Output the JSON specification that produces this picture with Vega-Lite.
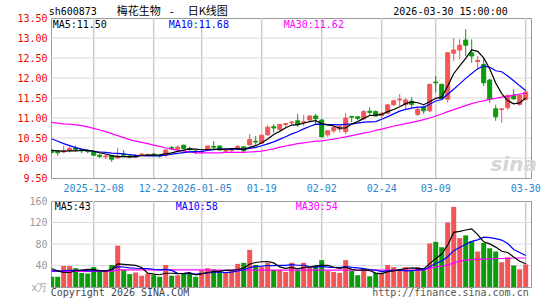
{
"$schema": "https://vega.github.io/schema/vega-lite/v6.json",
"padding": {"left": 16, "top": 5, "right": 5, "bottom": 2},
"background": "white",
"spacing": 23,
"bounds": "flush",
"config": {
 "view": {"stroke": "#999999", "strokeWidth": 1},
 "axis": {"domain": false, "ticks": false, "labelFont": "DejaVu Sans Mono", "labelFontSize": 10, "labelOverlap": false, "zindex": 0},
 "text": {"font": "DejaVu Sans Mono", "fontSize": 10, "align": "left", "baseline": "middle"}
},
"data": {"values": [
{"d":"2025-11-27","o":10.19,"h":10.22,"l":10.12,"c":10.14,"v":19,"m5":10.19,"m10":10.48,"m30":10.89,"vm5":34,"vm10":30,"vm30":29},
{"d":"2025-11-28","o":10.17,"h":10.19,"l":10.06,"c":10.13,"v":19,"m5":10.18,"m10":10.42,"m30":10.87,"vm5":30,"vm10":30,"vm30":29},
{"d":"2025-12-01","o":10.15,"h":10.31,"l":10.12,"c":10.18,"v":39,"m5":10.17,"m10":10.36,"m30":10.855,"vm5":27,"vm10":30,"vm30":29},
{"d":"2025-12-02","o":10.19,"h":10.33,"l":10.14,"c":10.24,"v":39,"m5":10.18,"m10":10.31,"m30":10.845,"vm5":27,"vm10":31,"vm30":29},
{"d":"2025-12-03","o":10.25,"h":10.31,"l":10.16,"c":10.21,"v":35,"m5":10.18,"m10":10.26,"m30":10.83,"vm5":30.2,"vm10":31,"vm30":29},
{"d":"2025-12-04","o":10.21,"h":10.24,"l":10.12,"c":10.18,"v":26,"m5":10.188,"m10":10.22,"m30":10.81,"vm5":31.6,"vm10":31,"vm30":29},
{"d":"2025-12-05","o":10.18,"h":10.21,"l":10.12,"c":10.16,"v":25,"m5":10.194,"m10":10.19,"m30":10.78,"vm5":32.8,"vm10":30,"vm30":29},
{"d":"2025-12-08","o":10.14,"h":10.16,"l":10.05,"c":10.07,"v":37,"m5":10.172,"m10":10.16,"m30":10.74,"vm5":32.4,"vm10":30,"vm30":29},
{"d":"2025-12-09","o":10.07,"h":10.11,"l":10.0,"c":10.04,"v":29,"m5":10.132,"m10":10.15,"m30":10.7,"vm5":30.4,"vm10":30,"vm30":29},
{"d":"2025-12-10","o":10.03,"h":10.09,"l":9.97,"c":10.05,"v":31,"m5":10.1,"m10":10.14,"m30":10.66,"vm5":29.6,"vm10":29.9,"vm30":29},
{"d":"2025-12-11","o":10.06,"h":10.08,"l":9.9,"c":9.97,"v":41,"m5":10.058,"m10":10.123,"m30":10.61,"vm5":32.6,"vm10":32.1,"vm30":29},
{"d":"2025-12-12","o":10.0,"h":10.26,"l":10.0,"c":10.05,"v":77,"m5":10.036,"m10":10.115,"m30":10.56,"vm5":43,"vm10":37.9,"vm30":32},
{"d":"2025-12-15","o":10.1,"h":10.2,"l":10.03,"c":10.07,"v":32,"m5":10.036,"m10":10.104,"m30":10.51,"vm5":42,"vm10":37.2,"vm30":32},
{"d":"2025-12-16","o":10.05,"h":10.08,"l":9.99,"c":10.02,"v":24,"m5":10.032,"m10":10.082,"m30":10.46,"vm5":41,"vm10":35.7,"vm30":32},
{"d":"2025-12-17","o":10.02,"h":10.1,"l":10.0,"c":10.07,"v":27,"m5":10.036,"m10":10.068,"m30":10.42,"vm5":40.2,"vm10":34.9,"vm30":32},
{"d":"2025-12-18","o":10.08,"h":10.13,"l":10.06,"c":10.1,"v":21,"m5":10.062,"m10":10.06,"m30":10.39,"vm5":36.2,"vm10":34.4,"vm30":32},
{"d":"2025-12-19","o":10.08,"h":10.11,"l":10.06,"c":10.09,"v":25,"m5":10.07,"m10":10.053,"m30":10.36,"vm5":25.8,"vm10":34.4,"vm30":32},
{"d":"2025-12-22","o":10.1,"h":10.12,"l":10.05,"c":10.07,"v":22,"m5":10.07,"m10":10.053,"m30":10.32,"vm5":23.8,"vm10":32.9,"vm30":32},
{"d":"2025-12-23","o":10.07,"h":10.08,"l":10.01,"c":10.05,"v":19,"m5":10.076,"m10":10.054,"m30":10.29,"vm5":22.8,"vm10":31.9,"vm30":32},
{"d":"2025-12-24","o":10.07,"h":10.22,"l":10.02,"c":10.2,"v":41,"m5":10.102,"m10":10.069,"m30":10.25,"vm5":25.6,"vm10":32.9,"vm30":32},
{"d":"2025-12-25","o":10.26,"h":10.3,"l":10.2,"c":10.23,"v":21,"m5":10.128,"m10":10.095,"m30":10.22,"vm5":25.6,"vm10":30.9,"vm30":32},
{"d":"2025-12-26","o":10.22,"h":10.32,"l":10.2,"c":10.27,"v":22,"m5":10.164,"m10":10.117,"m30":10.19,"vm5":25,"vm10":25.4,"vm30":32},
{"d":"2025-12-29","o":10.32,"h":10.33,"l":10.22,"c":10.24,"v":25,"m5":10.198,"m10":10.134,"m30":10.17,"vm5":25.6,"vm10":24.7,"vm30":32},
{"d":"2025-12-30","o":10.24,"h":10.28,"l":10.18,"c":10.21,"v":25,"m5":10.23,"m10":10.153,"m30":10.15,"vm5":26.8,"vm10":24.8,"vm30":32},
{"d":"2025-12-31","o":10.17,"h":10.2,"l":10.1,"c":10.15,"v":19,"m5":10.22,"m10":10.161,"m30":10.13,"vm5":22.4,"vm10":24,"vm30":32},
{"d":"2026-01-05","o":10.13,"h":10.18,"l":10.12,"c":10.16,"v":31,"m5":10.206,"m10":10.167,"m30":10.13,"vm5":24.4,"vm10":25,"vm30":32},
{"d":"2026-01-06","o":10.2,"h":10.31,"l":10.18,"c":10.3,"v":35,"m5":10.212,"m10":10.188,"m30":10.13,"vm5":27,"vm10":26,"vm30":31.5},
{"d":"2026-01-07","o":10.29,"h":10.42,"l":10.2,"c":10.27,"v":33,"m5":10.218,"m10":10.208,"m30":10.13,"vm5":28.6,"vm10":27.1,"vm30":31.5},
{"d":"2026-01-08","o":10.3,"h":10.31,"l":10.2,"c":10.2,"v":30,"m5":10.216,"m10":10.223,"m30":10.13,"vm5":29.6,"vm10":28.2,"vm30":31.5},
{"d":"2026-01-09","o":10.17,"h":10.2,"l":10.15,"c":10.19,"v":27,"m5":10.224,"m10":10.222,"m30":10.14,"vm5":31.2,"vm10":26.8,"vm30":31.5},
{"d":"2026-01-12","o":10.19,"h":10.23,"l":10.15,"c":10.21,"v":30,"m5":10.234,"m10":10.22,"m30":10.14,"vm5":31,"vm10":27.7,"vm30":31.5},
{"d":"2026-01-13","o":10.22,"h":10.32,"l":10.19,"c":10.29,"v":43,"m5":10.232,"m10":10.222,"m30":10.14,"vm5":32.6,"vm10":29.8,"vm30":31.5},
{"d":"2026-01-14","o":10.28,"h":10.29,"l":10.13,"c":10.18,"v":45,"m5":10.214,"m10":10.216,"m30":10.14,"vm5":35,"vm10":31.8,"vm30":31.5},
{"d":"2026-01-15","o":10.33,"h":10.6,"l":10.3,"c":10.46,"v":69,"m5":10.266,"m10":10.241,"m30":10.15,"vm5":42.8,"vm10":36.2,"vm30":31.5},
{"d":"2026-01-16","o":10.42,"h":10.55,"l":10.33,"c":10.4,"v":41,"m5":10.308,"m10":10.266,"m30":10.16,"vm5":45.6,"vm10":38.4,"vm30":31.5},
{"d":"2026-01-19","o":10.37,"h":10.57,"l":10.36,"c":10.57,"v":37,"m5":10.38,"m10":10.307,"m30":10.17,"vm5":47,"vm10":39,"vm30":31.5},
{"d":"2026-01-20","o":10.58,"h":10.82,"l":10.55,"c":10.77,"v":45,"m5":10.476,"m10":10.354,"m30":10.2,"vm5":47.4,"vm10":40,"vm30":31.5},
{"d":"2026-01-21","o":10.78,"h":10.85,"l":10.63,"c":10.75,"v":32,"m5":10.59,"m10":10.402,"m30":10.23,"vm5":44.8,"vm10":39.9,"vm30":31.5},
{"d":"2026-01-22","o":10.72,"h":10.85,"l":10.68,"c":10.84,"v":32,"m5":10.666,"m10":10.466,"m30":10.27,"vm5":37.4,"vm10":40.1,"vm30":31.5},
{"d":"2026-01-23","o":10.84,"h":10.87,"l":10.78,"c":10.86,"v":28,"m5":10.758,"m10":10.533,"m30":10.3,"vm5":34.8,"vm10":40.2,"vm30":31.5},
{"d":"2026-01-26","o":10.88,"h":10.92,"l":10.82,"c":10.9,"v":45,"m5":10.824,"m10":10.602,"m30":10.33,"vm5":36.4,"vm10":41.7,"vm30":31.5},
{"d":"2026-01-27","o":10.93,"h":11.1,"l":10.78,"c":10.83,"v":31,"m5":10.836,"m10":10.656,"m30":10.36,"vm5":33.6,"vm10":40.5,"vm30":31.5},
{"d":"2026-01-28","o":10.89,"h":11.08,"l":10.8,"c":10.91,"v":45,"m5":10.868,"m10":10.729,"m30":10.38,"vm5":36.2,"vm10":40.5,"vm30":31.5},
{"d":"2026-01-29","o":10.95,"h":11.07,"l":10.93,"c":11.05,"v":37,"m5":10.91,"m10":10.788,"m30":10.4,"vm5":37.2,"vm10":37.3,"vm30":31.5},
{"d":"2026-01-30","o":11.05,"h":11.1,"l":10.85,"c":10.98,"v":39,"m5":10.934,"m10":10.846,"m30":10.42,"vm5":39.4,"vm10":37.1,"vm30":31.5},
{"d":"2026-02-02","o":10.95,"h":10.98,"l":10.52,"c":10.53,"v":50,"m5":10.86,"m10":10.842,"m30":10.43,"vm5":40.4,"vm10":38.4,"vm30":31.5},
{"d":"2026-02-03","o":10.58,"h":10.68,"l":10.53,"c":10.68,"v":30,"m5":10.83,"m10":10.833,"m30":10.45,"vm5":40.2,"vm10":36.9,"vm30":31.5},
{"d":"2026-02-04","o":10.68,"h":10.8,"l":10.62,"c":10.76,"v":28,"m5":10.8,"m10":10.834,"m30":10.47,"vm5":36.8,"vm10":36.5,"vm30":31.5},
{"d":"2026-02-05","o":10.72,"h":10.84,"l":10.64,"c":10.78,"v":26,"m5":10.746,"m10":10.828,"m30":10.5,"vm5":34.6,"vm10":35.9,"vm30":31.5},
{"d":"2026-02-06","o":10.66,"h":11.13,"l":10.6,"c":11.0,"v":50,"m5":10.75,"m10":10.842,"m30":10.53,"vm5":36.8,"vm10":38.1,"vm30":31.5},
{"d":"2026-02-09","o":11.04,"h":11.05,"l":10.9,"c":11.02,"v":30,"m5":10.848,"m10":10.854,"m30":10.56,"vm5":32.8,"vm10":36.6,"vm30":31.5},
{"d":"2026-02-10","o":11.03,"h":11.04,"l":10.95,"c":10.99,"v":22,"m5":10.91,"m10":10.87,"m30":10.59,"vm5":31.2,"vm10":35.7,"vm30":31.5},
{"d":"2026-02-11","o":10.98,"h":11.2,"l":10.95,"c":11.16,"v":31,"m5":10.99,"m10":10.895,"m30":10.62,"vm5":31.8,"vm10":34.3,"vm30":31.5},
{"d":"2026-02-12","o":11.17,"h":11.27,"l":11.05,"c":11.14,"v":20,"m5":11.062,"m10":10.904,"m30":10.65,"vm5":30.6,"vm10":32.6,"vm30":31.5},
{"d":"2026-02-13","o":11.16,"h":11.19,"l":11.04,"c":11.05,"v":26,"m5":11.072,"m10":10.911,"m30":10.69,"vm5":25.8,"vm10":31.3,"vm30":31.5},
{"d":"2026-02-24","o":11.06,"h":11.16,"l":11.0,"c":11.12,"v":25,"m5":11.092,"m10":10.97,"m30":10.72,"vm5":24.8,"vm10":28.8,"vm30":31.5},
{"d":"2026-02-25","o":11.12,"h":11.34,"l":11.1,"c":11.33,"v":41,"m5":11.16,"m10":11.035,"m30":10.76,"vm5":28.6,"vm10":29.9,"vm30":31.5},
{"d":"2026-02-26","o":11.33,"h":11.45,"l":11.3,"c":11.43,"v":37,"m5":11.214,"m10":11.102,"m30":10.8,"vm5":29.8,"vm10":30.8,"vm30":31.5},
{"d":"2026-02-27","o":11.45,"h":11.6,"l":11.3,"c":11.47,"v":32,"m5":11.28,"m10":11.171,"m30":10.83,"vm5":32.2,"vm10":31.4,"vm30":31.5},
{"d":"2026-03-02","o":11.34,"h":11.5,"l":11.22,"c":11.45,"v":37,"m5":11.36,"m10":11.216,"m30":10.86,"vm5":34.4,"vm10":30.1,"vm30":31.5},
{"d":"2026-03-03","o":11.42,"h":11.52,"l":11.25,"c":11.34,"v":31,"m5":11.404,"m10":11.248,"m30":10.89,"vm5":35.6,"vm10":30.2,"vm30":31.5},
{"d":"2026-03-04","o":11.09,"h":11.26,"l":11.05,"c":11.22,"v":37,"m5":11.382,"m10":11.271,"m30":10.92,"vm5":34.8,"vm10":31.7,"vm30":31.5},
{"d":"2026-03-05","o":11.27,"h":11.31,"l":11.1,"c":11.18,"v":31,"m5":11.332,"m10":11.273,"m30":10.96,"vm5":33.6,"vm10":31.7,"vm30":31.5},
{"d":"2026-03-06","o":11.18,"h":11.86,"l":11.14,"c":11.84,"v":81,"m5":11.406,"m10":11.343,"m30":11.0,"vm5":43.4,"vm10":37.8,"vm30":35},
{"d":"2026-03-09","o":11.9,"h":12.05,"l":11.64,"c":11.88,"v":84,"m5":11.492,"m10":11.426,"m30":11.05,"vm5":52.8,"vm10":43.6,"vm30":37},
{"d":"2026-03-10","o":11.84,"h":11.86,"l":11.48,"c":11.48,"v":74,"m5":11.52,"m10":11.462,"m30":11.1,"vm5":61.4,"vm10":48.5,"vm30":39},
{"d":"2026-03-11","o":11.47,"h":12.65,"l":11.38,"c":12.63,"v":120,"m5":11.802,"m10":11.592,"m30":11.16,"vm5":78,"vm10":56.4,"vm30":41},
{"d":"2026-03-12","o":12.62,"h":13.0,"l":12.42,"c":12.7,"v":149,"m5":12.106,"m10":11.719,"m30":11.21,"vm5":101.6,"vm10":67.6,"vm30":45},
{"d":"2026-03-13","o":12.7,"h":12.97,"l":12.47,"c":12.82,"v":91,"m5":12.302,"m10":11.854,"m30":11.26,"vm5":103.6,"vm10":73.5,"vm30":48},
{"d":"2026-03-16","o":12.95,"h":13.22,"l":12.55,"c":12.82,"v":96,"m5":12.49,"m10":11.991,"m30":11.31,"vm5":106,"vm10":79.4,"vm30":50},
{"d":"2026-03-17","o":12.63,"h":12.97,"l":12.38,"c":12.55,"v":85,"m5":12.704,"m10":12.112,"m30":11.36,"vm5":108.2,"vm10":84.8,"vm30":51},
{"d":"2026-03-18","o":12.41,"h":12.55,"l":12.2,"c":12.44,"v":66,"m5":12.666,"m10":12.234,"m30":11.4,"vm5":97.4,"vm10":87.7,"vm30":51.5},
{"d":"2026-03-19","o":12.34,"h":12.48,"l":11.8,"c":11.88,"v":82,"m5":12.502,"m10":12.304,"m30":11.43,"vm5":84,"vm10":92.8,"vm30":52},
{"d":"2026-03-20","o":11.95,"h":11.98,"l":11.38,"c":11.47,"v":72,"m5":12.232,"m10":12.267,"m30":11.47,"vm5":80.2,"vm10":91.9,"vm30":52.5},
{"d":"2026-03-23","o":11.23,"h":11.33,"l":10.93,"c":11.03,"v":66,"m5":11.874,"m10":12.182,"m30":11.49,"vm5":74.2,"vm10":90.1,"vm30":53},
{"d":"2026-03-24","o":11.21,"h":11.23,"l":10.88,"c":11.23,"v":46,"m5":11.61,"m10":12.157,"m30":11.52,"vm5":66.4,"vm10":87.3,"vm30":53},
{"d":"2026-03-25","o":11.26,"h":11.58,"l":11.2,"c":11.57,"v":55,"m5":11.436,"m10":12.051,"m30":11.54,"vm5":64.2,"vm10":80.8,"vm30":53.5},
{"d":"2026-03-26","o":11.57,"h":11.72,"l":11.45,"c":11.48,"v":40,"m5":11.356,"m10":11.929,"m30":11.57,"vm5":55.8,"vm10":69.9,"vm30":54},
{"d":"2026-03-27","o":11.34,"h":11.59,"l":11.3,"c":11.57,"v":33,"m5":11.376,"m10":11.804,"m30":11.6,"vm5":48,"vm10":64.1,"vm30":54},
{"d":"2026-03-30","o":11.47,"h":11.68,"l":11.43,"c":11.65,"v":42,"m5":11.5,"m10":11.687,"m30":11.62,"vm5":43.2,"vm10":58.7,"vm30":54}
]},
"vconcat": [
 {
  "width": 480, "height": 160,
  "layer": [
   {"data": {"values": [{"g":"2025-12-08"},{"g":"2025-12-22"},{"g":"2026-01-05"},{"g":"2026-01-19"},{"g":"2026-02-02"},{"g":"2026-02-24"},{"g":"2026-03-09"},{"g":"2026-03-30"}]},
    "mark": {"type": "rule", "color": "#cccccc", "strokeWidth": 1.5},
    "encoding": {"x": {"field": "g", "type": "ordinal", "scale": {"type": "band", "range": [-2.3, 477.7], "paddingInner": 0, "paddingOuter": 0},
           "axis": {"title": null, "values": ["2025-12-08","2025-12-22","2026-01-05","2026-01-19","2026-02-02","2026-02-24","2026-03-09","2026-03-30"],
                    "labelExpr": "datum.value == '2025-12-08' || datum.value == '2026-01-05' ? datum.value : slice(datum.value, 5)",
                    "labelColor": "#1f86d0", "labelPadding": 5, "labelAngle": 0, "bandPosition": 0.5, "labelOverlap": false, "grid": false}}}},
   {"data": {"values": [{"p":10},{"p":10.5},{"p":11},{"p":11.5},{"p":12},{"p":12.5},{"p":13}]},
    "mark": {"type": "rule", "color": "#dadada", "strokeWidth": 1},
    "encoding": {"y": {"field": "p", "type": "quantitative", "scale": {"domain": [9.5, 13.5], "zero": false, "nice": false},
           "axis": {"title": null, "values": [9.5,10,10.5,11,11.5,12,12.5,13,13.5], "tickCount": 20, "format": ".2f", "labelColor": "#ee0000", "labelPadding": 4, "grid": false}}}},
   {"mark": {"type": "rule", "strokeWidth": 1, "clip": true},
    "encoding": {
     "x": {"field": "d", "type": "ordinal"},
     "y": {"field": "l", "type": "quantitative"},
     "y2": {"field": "h"},
     "color": {"condition": {"test": "datum.c >= datum.o", "value": "#f25555"}, "value": "#0b9b0b"}
    }},
   {"mark": {"type": "bar", "width": 4, "strokeWidth": 1, "clip": true},
    "encoding": {
     "x": {"field": "d", "type": "ordinal"},
     "y": {"field": "o", "type": "quantitative"},
     "y2": {"field": "c"},
     "fill": {"condition": {"test": "datum.c >= datum.o", "value": "#f25555"}, "value": "#0b9b0b"},
     "stroke": {"condition": {"test": "datum.c >= datum.o", "value": "#f25555"}, "value": "#0b9b0b"}
    }},
   {"mark": {"type": "line", "color": "#ff00ff", "strokeWidth": 1.2, "clip": true}, "encoding": {"x": {"field": "d", "type": "ordinal"}, "y": {"field": "m30", "type": "quantitative"}}},
   {"mark": {"type": "line", "color": "#0000ff", "strokeWidth": 1.2, "clip": true}, "encoding": {"x": {"field": "d", "type": "ordinal"}, "y": {"field": "m10", "type": "quantitative"}}},
   {"mark": {"type": "line", "color": "#000000", "strokeWidth": 1.2, "clip": true}, "encoding": {"x": {"field": "d", "type": "ordinal"}, "y": {"field": "m5", "type": "quantitative"}}},
   {"data": {"values": [{}]}, "mark": {"type": "text", "text": "MA5:11.50", "color": "#000000", "dx": 1}, "encoding": {"x": {"datum": "2025-11-27"}, "y": {"datum": 13.33}}},
   {"data": {"values": [{}]}, "mark": {"type": "text", "text": "MA10:11.68", "color": "#0000ff", "dx": 3}, "encoding": {"x": {"datum": "2025-12-24"}, "y": {"datum": 13.33}}},
   {"data": {"values": [{}]}, "mark": {"type": "text", "text": "MA30:11.62", "color": "#ff00ff", "dx": -2}, "encoding": {"x": {"datum": "2026-01-23"}, "y": {"datum": 13.33}}},
   {"data": {"values": [{}]}, "mark": {"type": "text", "text": "sh600873", "color": "#000000", "dx": -3}, "encoding": {"x": {"datum": "2025-11-27"}, "y": {"datum": 13.65}}},
   {"data": {"values": [{}]}, "mark": {"type": "text", "text": "梅花生物", "font": "Noto Sans CJK SC", "fontSize": 11, "color": "#000000", "dx": -1}, "encoding": {"x": {"datum": "2025-12-12"}, "y": {"datum": 13.65}}},
   {"data": {"values": [{}]}, "mark": {"type": "text", "text": "-", "font": "DejaVu Sans", "fontSize": 11, "align": "center", "color": "#000000"}, "encoding": {"x": {"datum": "2025-12-25"}, "y": {"datum": 13.65}}},
   {"data": {"values": [{}]}, "mark": {"type": "text", "text": "日K线图", "font": "Noto Sans CJK SC", "fontSize": 11, "color": "#000000", "dx": -2}, "encoding": {"x": {"datum": "2025-12-30"}, "y": {"datum": 13.65}}},
   {"data": {"values": [{}]}, "mark": {"type": "text", "text": "2026-03-30 15:00:00", "align": "right", "color": "#000000"}, "encoding": {"x": {"datum": "2026-03-25"}, "y": {"datum": 13.65}}},
   {"data": {"values": [{}]}, "mark": {"type": "text", "text": "sina", "font": "DejaVu Sans", "fontSize": 20, "fontStyle": "italic", "fontWeight": "bold", "align": "center", "color": "#d6d6d6"}, "encoding": {"x": {"datum": "2026-03-26"}, "y": {"datum": 9.82}}}
  ]
 },
 {
  "width": 480, "height": 86,
  "layer": [
   {"data": {"values": [{"g":"2025-12-08"},{"g":"2025-12-22"},{"g":"2026-01-05"},{"g":"2026-01-19"},{"g":"2026-02-02"},{"g":"2026-02-24"},{"g":"2026-03-09"},{"g":"2026-03-30"}]},
    "mark": {"type": "rule", "color": "#cccccc", "strokeWidth": 1.5},
    "encoding": {"x": {"field": "g", "type": "ordinal", "scale": {"type": "band", "range": [-2.3, 477.7], "paddingInner": 0, "paddingOuter": 0},
           "axis": {"title": null, "values": ["2025-12-08"], "labels": false, "grid": false}}}},
   {"data": {"values": [{"q":40},{"q":80},{"q":120}]},
    "mark": {"type": "rule", "color": "#dadada", "strokeWidth": 1},
    "encoding": {"y": {"field": "q", "type": "quantitative", "scale": {"domain": [0, 160], "nice": false},
           "axis": {"title": null, "values": [0, 40, 80, 120, 160], "tickCount": 20, "labelExpr": "datum.value == 0 ? 'x万' : datum.value", "labelColor": "#999999", "labelPadding": 4, "grid": false}}}},
   {"mark": {"type": "bar", "width": 5, "clip": true},
    "encoding": {
     "x": {"field": "d", "type": "ordinal"},
     "y": {"field": "v", "type": "quantitative"},
     "color": {"condition": {"test": "datum.c >= datum.o", "value": "#f25555"}, "value": "#0b9b0b"}
    }},
   {"mark": {"type": "line", "color": "#ff00ff", "strokeWidth": 1.2, "clip": true}, "encoding": {"x": {"field": "d", "type": "ordinal"}, "y": {"field": "vm30", "type": "quantitative"}}},
   {"mark": {"type": "line", "color": "#0000ff", "strokeWidth": 1.2, "clip": true}, "encoding": {"x": {"field": "d", "type": "ordinal"}, "y": {"field": "vm10", "type": "quantitative"}}},
   {"mark": {"type": "line", "color": "#000000", "strokeWidth": 1.2, "clip": true}, "encoding": {"x": {"field": "d", "type": "ordinal"}, "y": {"field": "vm5", "type": "quantitative"}}},
   {"data": {"values": [{}]}, "mark": {"type": "text", "text": "MA5:43", "color": "#000000", "dx": 3}, "encoding": {"x": {"datum": "2025-11-27"}, "y": {"datum": 148.8}}},
   {"data": {"values": [{}]}, "mark": {"type": "text", "text": "MA10:58", "color": "#0000ff", "dx": -2}, "encoding": {"x": {"datum": "2025-12-26"}, "y": {"datum": 148.8}}},
   {"data": {"values": [{}]}, "mark": {"type": "text", "text": "MA30:54", "color": "#ff00ff", "dx": -2}, "encoding": {"x": {"datum": "2026-01-27"}, "y": {"datum": 148.8}}},
   {"data": {"values": [{}]}, "mark": {"type": "text", "text": "Copyright 2026 SINA.COM", "color": "#444444", "dx": -1}, "encoding": {"x": {"datum": "2025-11-27"}, "y": {"datum": -11.3}}},
   {"data": {"values": [{}]}, "mark": {"type": "text", "text": "http://finance.sina.com.cn", "align": "right", "color": "#555555", "dx": 3}, "encoding": {"x": {"datum": "2026-03-30"}, "y": {"datum": -11.3}}}
  ]
 }
]
}
